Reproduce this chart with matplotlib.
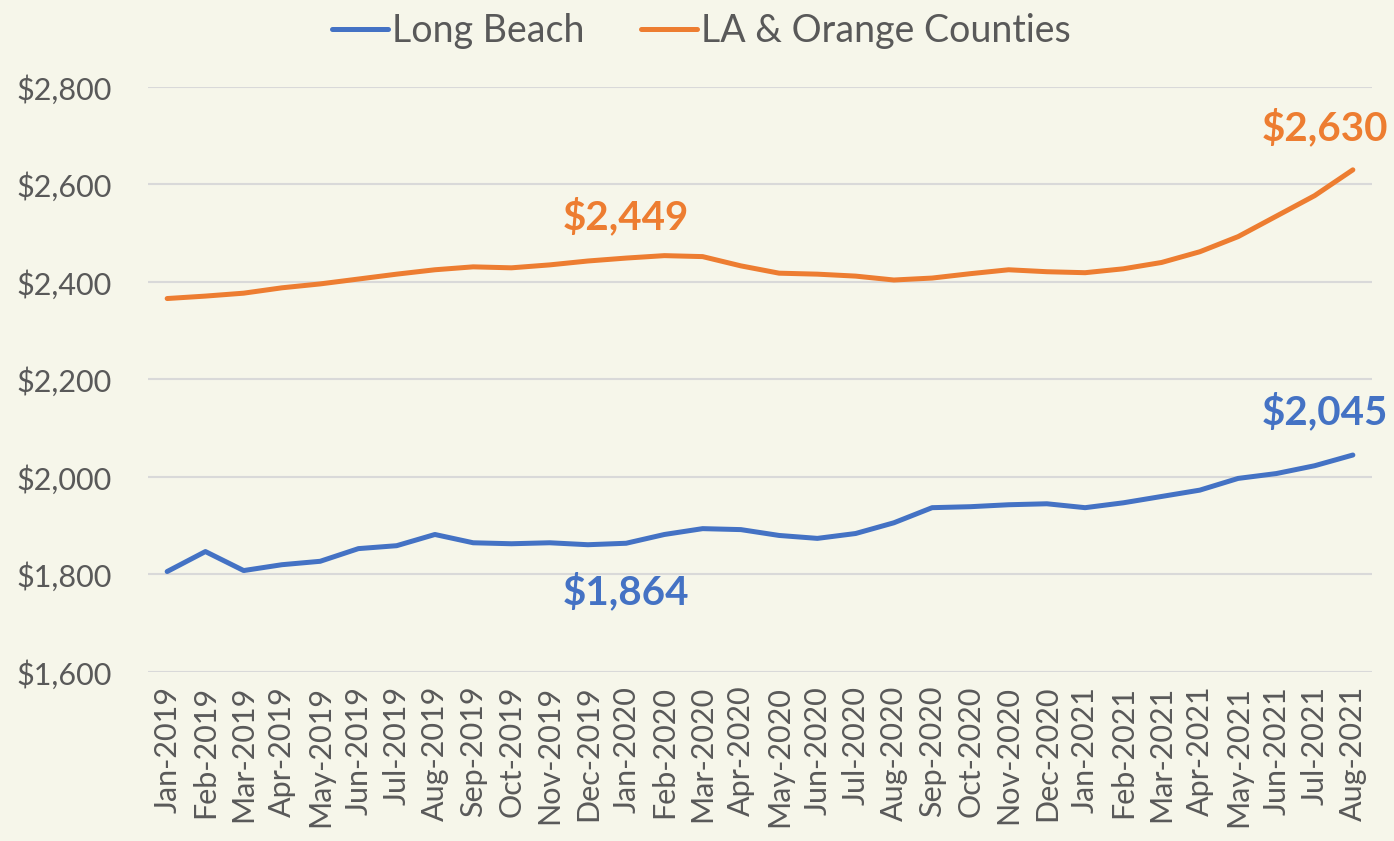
import matplotlib
matplotlib.use("Agg")
import matplotlib.pyplot as plt
from matplotlib.ticker import FuncFormatter

months = ["Jan-2019", "Feb-2019", "Mar-2019", "Apr-2019", "May-2019", "Jun-2019",
          "Jul-2019", "Aug-2019", "Sep-2019", "Oct-2019", "Nov-2019", "Dec-2019",
          "Jan-2020", "Feb-2020", "Mar-2020", "Apr-2020", "May-2020", "Jun-2020",
          "Jul-2020", "Aug-2020", "Sep-2020", "Oct-2020", "Nov-2020", "Dec-2020",
          "Jan-2021", "Feb-2021", "Mar-2021", "Apr-2021", "May-2021", "Jun-2021",
          "Jul-2021", "Aug-2021"]

long_beach = [1806, 1847, 1808, 1820, 1827, 1853, 1859, 1882, 1865, 1863, 1865, 1861,
              1864, 1882, 1894, 1892, 1880, 1874, 1884, 1906, 1937, 1939, 1943, 1945,
              1937, 1947, 1960, 1973, 1997, 2007, 2023, 2045]

la_orange = [2366, 2371, 2377, 2388, 2396, 2406, 2416, 2425, 2431, 2429, 2435, 2443,
             2449, 2454, 2452, 2433, 2418, 2416, 2412, 2404, 2408, 2417, 2425, 2421,
             2419, 2427, 2440, 2462, 2493, 2535, 2577, 2630]

series_names = ["Long Beach", "LA & Orange Counties"]
y_ticks = [1600, 1800, 2000, 2200, 2400, 2600, 2800]

BLUE = "#4472C4"
ORANGE = "#ED7D31"
BG = "#F6F6EA"
TXT = "#595959"

plt.rcParams['font.family'] = ['Lato', 'DejaVu Sans']

fig = plt.figure(figsize=(13.94, 8.41), dpi=100, facecolor=BG)
ax = fig.add_axes([0.1062, 0.2010, 0.8780, 0.6956])
ax.set_facecolor(BG)

x = list(range(len(months)))
l1, = ax.plot(x, long_beach, color=BLUE, lw=3.6, solid_capstyle='round', label=series_names[0])
l2, = ax.plot(x, la_orange, color=ORANGE, lw=3.6, solid_capstyle='round', label=series_names[1])

ax.set_xlim(-0.5, len(months) - 0.5)
ax.set_ylim(1600, 2800)
ax.set_yticks(y_ticks)
ax.yaxis.set_major_formatter(FuncFormatter(lambda v, p: f"${v:,.0f}"))
ax.set_xticks(x)
ax.set_xticklabels(months, rotation=90, fontsize=22, color=TXT)
ax.tick_params(axis='y', labelsize=22, labelcolor=TXT, length=0, pad=26)
ax.tick_params(axis='x', length=0, pad=10)
for lab in ax.get_yticklabels():
    lab.set_horizontalalignment('right')
ax.grid(axis='y', color='#D9D9D9', lw=1.5)
ax.set_axisbelow(True)
for s in ax.spines.values():
    s.set_visible(False)

# annotations
ann = dict(fontsize=29, fontweight='bold', ha='center', va='center', textcoords='offset points')
ax.annotate(f"${la_orange[12]:,}", xy=(12, la_orange[12]), xytext=(0, 30), color=ORANGE, **ann)
ax.annotate(f"${la_orange[-1]:,}", xy=(31, la_orange[-1]), xytext=(-20, 30), color=ORANGE,
            annotation_clip=False, **ann)
ax.annotate(f"${long_beach[12]:,}", xy=(12, long_beach[12]), xytext=(0, -35), color=BLUE, **ann)
ax.annotate(f"${long_beach[-1]:,}", xy=(31, long_beach[-1]), xytext=(-20, 31), color=BLUE,
            annotation_clip=False, **ann)

leg = fig.legend(handles=[l1, l2], loc='upper center', bbox_to_anchor=(0.503, 1.025), ncol=2,
                 frameon=False, prop={'size': 27}, handlelength=1.5,
                 handletextpad=0.1, columnspacing=1.5, labelcolor=TXT)

fig.savefig("out.png", dpi=100, facecolor=BG)
